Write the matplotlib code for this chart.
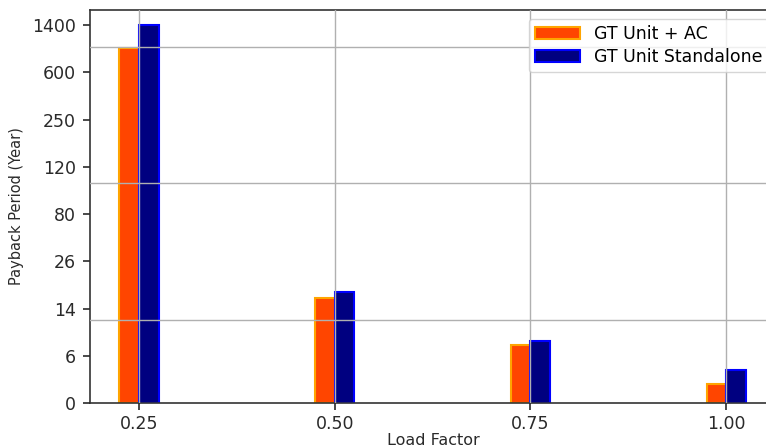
import numpy as np
import matplotlib
matplotlib.use("Agg")
import matplotlib.pyplot as plt

# Datos (periodo de retorno en años)
load_factor = [0.25, 0.50, 0.75, 1.00]
gt_ac = [1010, 16.6, 7.8, 2.4]
gt_standalone = [1400, 18.2, 8.5, 4.2]

# Etiquetas del eje Y (escala no lineal, espaciadas por igual)
y_levels = [0, 6, 14, 26, 80, 120, 250, 600, 1400]
grid_levels = [12, 106, 1024]

pos = np.arange(len(y_levels), dtype=float)
lev = np.array(y_levels, dtype=float)


def forward(v):
    v = np.asarray(v, dtype=float)
    out = np.interp(v, lev, pos)
    slope_hi = (pos[-1] - pos[-2]) / (lev[-1] - lev[-2])
    out = np.where(v > lev[-1], pos[-1] + (v - lev[-1]) * slope_hi, out)
    slope_lo = (pos[1] - pos[0]) / (lev[1] - lev[0])
    out = np.where(v < lev[0], (v - lev[0]) * slope_lo, out)
    return out


def inverse(p):
    p = np.asarray(p, dtype=float)
    out = np.interp(p, pos, lev)
    slope_hi = (lev[-1] - lev[-2]) / (pos[-1] - pos[-2])
    out = np.where(p > pos[-1], lev[-1] + (p - pos[-1]) * slope_hi, out)
    slope_lo = (lev[1] - lev[0]) / (pos[1] - pos[0])
    out = np.where(p < pos[0], p * slope_lo, out)
    return out


fig = plt.figure(figsize=(7.66, 4.48), dpi=100)
ax = fig.add_axes([0.1175, 0.1004, 0.897, 0.8773])
ax.set_yscale('function', functions=(forward, inverse))

w = 0.025
x = np.array(load_factor)
ax.bar(x - w / 2, gt_ac, width=w, color='#FF4500', edgecolor='#FFA500',
       linewidth=1.5, label='GT Unit + AC', zorder=2)
ax.bar(x + w / 2, gt_standalone, width=w, color='#000080', edgecolor='#0000FF',
       linewidth=1.5, label='GT Unit Standalone', zorder=2)

ax.set_xlim(0.1875, 1.065)
ax.set_ylim(0, 1656)
ax.set_xticks(load_factor)
ax.set_xticklabels([f"{v:.2f}" for v in load_factor])
ax.set_yticks(y_levels)
ax.set_yticklabels([str(v) for v in y_levels])
ax.set_yticks(grid_levels, minor=True)
ax.tick_params(axis='y', which='minor', length=0)
ax.tick_params(axis='both', which='major', labelsize=12.5, colors='#2a2a2a',
               length=5, width=1.2)
ax.tick_params(axis='y', which='major', pad=5)

ax.grid(True, axis='x', which='major', color='#b0b0b0', linewidth=1, zorder=0)
ax.grid(True, axis='y', which='minor', color='#b0b0b0', linewidth=1, zorder=0)
ax.set_axisbelow(False)

for s in ax.spines.values():
    s.set_color('#333333')
    s.set_linewidth(1.2)

ax.set_xlabel('Load Factor', fontsize=11.5, color='#2a2a2a', labelpad=0)
ax.set_ylabel('Payback Period (Year)', fontsize=10.5, color='#2a2a2a', labelpad=6)

ax.legend(loc='upper right', fontsize=12.5, handlelength=2.6, framealpha=0.8,
          edgecolor='#cccccc', fancybox=True, borderpad=0.35, labelspacing=0.3)

fig.savefig('out.png', dpi=100)
